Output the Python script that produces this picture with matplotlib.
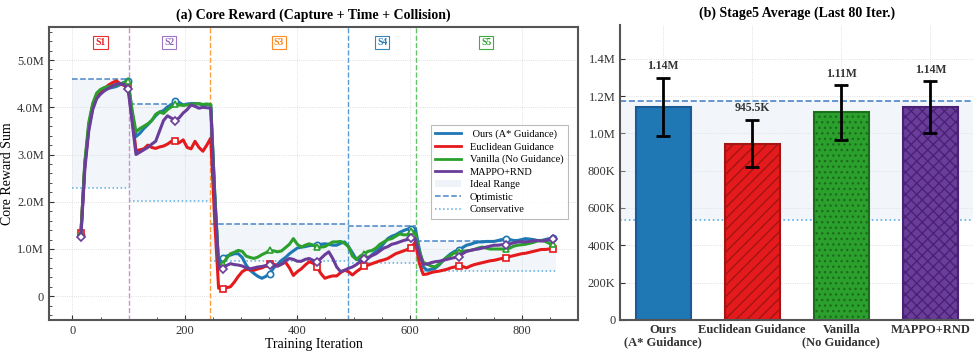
import matplotlib
matplotlib.use('Agg')
import matplotlib.pyplot as plt
import numpy as np
from matplotlib.ticker import FuncFormatter, AutoMinorLocator, MultipleLocator
from matplotlib.patches import Patch
from matplotlib.lines import Line2D

plt.rcParams['font.family'] = ['Liberation Serif', 'DejaVu Serif']
plt.rcParams['font.size'] = 8

# ---------------- datos panel (a) ----------------
# iteraciones de la curva suavizada (15 .. 855 cada 7)
iters = np.arange(15, 856, 7)

ours = [1.30, 2.80, 3.55, 3.98, 4.22, 4.32, 4.38, 4.40, 4.42, 4.44, 4.48, 4.53, 4.55,
        3.90, 3.38, 3.45, 3.55, 3.63, 3.72, 3.82, 3.90, 3.93, 4.01, 4.05, 4.14, 4.10, 4.05,
        4.07, 4.08, 4.08, 4.07, 4.05, 4.06, 4.05, 2.20, 0.62, 0.80,
        0.85, 0.87, 0.90, 0.90, 0.82, 0.66, 0.55, 0.48, 0.42, 0.38, 0.42, 0.48, 0.60, 0.68,
        0.76, 0.82, 0.90, 0.96, 1.02, 1.04, 1.05, 1.07, 1.08, 1.08, 1.10, 1.11, 1.10, 1.08,
        1.08, 1.12, 1.15, 1.05, 0.92, 0.78, 0.76, 0.80, 0.80, 0.88, 0.95, 1.02, 1.12, 1.22,
        1.27, 1.30, 1.35, 1.39, 1.42, 1.43, 1.43, 1.00, 0.62, 0.55, 0.57, 0.59, 0.66, 0.75,
        0.83, 0.90, 0.95, 0.98, 1.03, 1.08, 1.10, 1.13, 1.15, 1.15, 1.16, 1.16, 1.16, 1.18,
        1.20, 1.22, 1.20, 1.18, 1.18, 1.20, 1.22, 1.21, 1.20, 1.18, 1.18, 1.20, 1.22, 1.23]
euclid = [1.33, 2.78, 3.60, 4.05, 4.26, 4.34, 4.40, 4.47, 4.52, 4.56, 4.50, 4.46, 4.45,
          3.80, 3.08, 3.10, 3.12, 3.20, 3.15, 3.13, 3.16, 3.18, 3.22, 3.28, 3.28, 3.25, 3.31,
          3.15, 3.12, 3.28, 3.15, 3.07, 3.20, 3.35, 1.60, 0.17, 0.15,
          0.18, 0.20, 0.30, 0.42, 0.52, 0.57, 0.56, 0.55, 0.58, 0.60, 0.64, 0.69, 0.68, 0.64,
          0.68, 0.72, 0.60, 0.44, 0.52, 0.58, 0.66, 0.73, 0.70, 0.62, 0.48, 0.38, 0.41, 0.43,
          0.43, 0.50, 0.55, 0.52, 0.45, 0.52, 0.58, 0.64, 0.66, 0.69, 0.72, 0.75, 0.77, 0.80,
          0.85, 0.90, 0.93, 0.96, 0.99, 1.03, 1.15, 0.70, 0.46, 0.47, 0.50, 0.52, 0.53, 0.55,
          0.57, 0.60, 0.62, 0.65, 0.63, 0.60, 0.64, 0.67, 0.69, 0.71, 0.73, 0.75, 0.76, 0.78,
          0.80, 0.82, 0.84, 0.86, 0.88, 0.90, 0.91, 0.93, 0.95, 0.97, 0.99, 0.99, 1.00, 1.00]
vanilla = [1.33, 2.85, 3.68, 4.08, 4.30, 4.38, 4.42, 4.44, 4.45, 4.47, 4.50, 4.52, 4.55,
           3.95, 3.48, 3.55, 3.60, 3.65, 3.72, 3.85, 3.90, 3.87, 3.95, 4.01, 4.06, 4.05, 4.04,
           4.05, 4.06, 4.07, 4.08, 4.06, 4.07, 4.06, 2.20, 0.66, 0.69,
           0.80, 0.90, 0.93, 0.97, 0.95, 0.85, 0.82, 0.80, 0.83, 0.88, 0.92, 0.97, 0.96, 0.94,
           0.96, 1.03, 1.10, 1.22, 1.10, 1.04, 1.08, 1.11, 1.08, 1.04, 1.04, 1.05, 1.10, 1.15,
           1.15, 1.16, 1.12, 1.05, 0.85, 0.78, 0.85, 0.90, 0.95, 0.97, 1.02, 1.10, 1.15, 1.20,
           1.22, 1.27, 1.32, 1.30, 1.30, 1.39, 1.32, 0.95, 0.72, 0.68, 0.64, 0.62, 0.68, 0.76,
           0.82, 0.87, 0.92, 0.94, 0.95, 0.96, 0.97, 0.99, 1.02, 1.04, 1.02, 1.00, 1.00, 1.00,
           1.00, 1.00, 1.02, 1.06, 1.08, 1.09, 1.10, 1.12, 1.14, 1.17, 1.18, 1.16, 1.12, 1.10]
mappo = [1.25, 2.69, 3.50, 3.95, 4.18, 4.28, 4.35, 4.40, 4.45, 4.49, 4.50, 4.48, 4.38,
         3.70, 3.00, 3.05, 3.10, 3.15, 3.22, 3.28, 3.50, 3.72, 3.82, 3.77, 3.72, 3.78, 3.88,
         3.95, 4.05, 4.02, 3.98, 4.00, 3.99, 3.98, 2.10, 0.65, 0.57,
         0.65, 0.69, 0.67, 0.66, 0.64, 0.60, 0.58, 0.60, 0.62, 0.63, 0.65, 0.66, 0.65, 0.64,
         0.68, 0.75, 0.80, 0.78, 0.74, 0.74, 0.78, 0.80, 0.76, 0.73, 0.80, 0.88, 0.94, 0.80,
         0.62, 0.52, 0.55, 0.59, 0.62, 0.67, 0.73, 0.78, 0.82, 0.86, 0.90, 0.96, 1.02, 1.05,
         1.10, 1.12, 1.15, 1.18, 1.20, 1.23, 1.20, 0.90, 0.68, 0.68, 0.71, 0.73, 0.74, 0.76,
         0.78, 0.80, 0.82, 0.84, 0.90, 0.95, 0.97, 0.99, 1.00, 1.02, 1.04, 1.06, 1.08, 1.08,
         1.09, 1.09, 1.11, 1.13, 1.15, 1.15, 1.15, 1.16, 1.17, 1.18, 1.17, 1.18, 1.20, 1.22]

series_names = [' Ours (A* Guidance)', 'Euclidean Guidance', 'Vanilla (No Guidance)', 'MAPPO+RND']
series_vals = [ours, euclid, vanilla, mappo]
colores = ['#1f77b4', '#e41a1c', '#2ca02c', '#6a3d9a']
marcadores = ['o', 's', '^', 'D']

# etapas del curriculum
stage_names = ['S1', 'S2', 'S3', 'S4', 'S5']
stage_start = [0, 100, 245, 490, 612]
stage_end = [100, 245, 490, 612, 860]
stage_opt = [4.60, 4.08, 1.52, 1.48, 1.17]
stage_cons = [2.30, 2.02, 0.75, 0.70, 0.54]
stage_colores = ['#e41a1c', '#9467bd', '#ff7f0e', '#1f77b4', '#2ca02c']
sep_colores = ['#c994c7', '#ff9f40', '#5b9bd5', '#66c266']

# ---------------- datos panel (b) ----------------
bar_labels = ['Ours\n(A* Guidance)', 'Euclidean Guidance', 'Vanilla\n(No Guidance)', 'MAPPO+RND']
bar_means = [1.143e6, 0.9455e6, 1.112e6, 1.140e6]
bar_std = [0.155e6, 0.127e6, 0.145e6, 0.140e6]
bar_text = ['1.14M', '945.5K', '1.11M', '1.14M']
s5_opt = 1.171e6
s5_cons = 0.538e6

fig = plt.figure(figsize=(9.77, 3.55), dpi=100)
ax = fig.add_axes([0.05, 0.099, 0.542, 0.825])
ax2 = fig.add_axes([0.635, 0.099, 0.361, 0.83])


def fmt_m(v, pos):
    if v == 0:
        return '0'
    if abs(v) >= 1e6:
        return f'{v/1e6:.1f}M'
    return f'{v/1e3:.0f}K'


# bandas ideales
for i in range(len(stage_names)):
    x0, x1 = stage_start[i], stage_end[i]
    ax.fill_between([x0, x1], stage_cons[i] * 1e6, stage_opt[i] * 1e6, color='#dce8f3', alpha=0.35, lw=0)
    ax.plot([x0, x1], [stage_opt[i] * 1e6] * 2, color='#4a86c8', ls='--', lw=1.1)
    ax.plot([x0, x1], [stage_cons[i] * 1e6] * 2, color='#5dade2', ls=':', lw=1.1)
    ax.text((x0 + x1) / 2, 5.38e6, stage_names[i], color=stage_colores[i], fontsize=7, fontweight='bold',
            ha='center', va='center',
            bbox=dict(boxstyle='square,pad=0.2', fc='white', ec=stage_colores[i], lw=0.8, alpha=0.9))

for i in range(1, len(stage_start)):
    ax.axvline(stage_start[i], color=sep_colores[i - 1], ls='--', lw=1.0)

for nombre, vals, c, m in zip(series_names, series_vals, colores, marcadores):
    ax.plot(iters, np.array(vals) * 1e6, color=c, lw=2.2, marker=m, markevery=12, ms=4.5,
            mfc='white', mec=c, mew=1.2, label=nombre, zorder=3)

ax.set_xlim(-42, 900)
ax.set_ylim(-0.5e6, 5.7e6)
ax.yaxis.set_major_locator(MultipleLocator(1e6))
ax.yaxis.set_major_formatter(FuncFormatter(fmt_m))
ax.xaxis.set_major_locator(MultipleLocator(200))
ax.xaxis.set_minor_locator(AutoMinorLocator())
ax.yaxis.set_minor_locator(AutoMinorLocator())
ax.tick_params(direction='in', which='both', labelsize=9, colors='#333333')
ax.grid(True, ls=':', color='#cccccc', lw=0.6, alpha=0.8)
for s in ax.spines.values():
    s.set_color('#555555')
    s.set_linewidth(1.5)
ax.set_xlabel('Training Iteration', fontsize=10, labelpad=1)
ax.set_ylabel('Core Reward Sum', fontsize=10, labelpad=2)
ax.set_title('(a) Core Reward (Capture + Time + Collision)', fontsize=10, fontweight='bold', pad=6)

handles = [Line2D([], [], color=c, lw=2) for c in colores]
labels = list(series_names)
handles += [Patch(fc='#dce8f3', alpha=0.5, ec='none'),
            Line2D([], [], color='#4a86c8', ls='--', lw=1.1),
            Line2D([], [], color='#5dade2', ls=':', lw=1.1)]
labels += ['Ideal Range', 'Optimistic', 'Conservative']
leg = ax.legend(handles, labels, loc='center right', bbox_to_anchor=(0.99, 0.505), fontsize=7.5,
                labelspacing=0.3, handlelength=2.5, borderpad=0.45, fancybox=False, edgecolor='#aaaaaa')
leg.get_frame().set_linewidth(0.8)

# ---------------- panel (b) ----------------
xpos = np.arange(len(bar_labels))
ax2.axhspan(s5_cons, s5_opt, color='#dce8f3', alpha=0.35, lw=0)
ax2.axhline(s5_opt, color='#4a86c8', ls='--', lw=1.2)
ax2.axhline(s5_cons, color='#5dade2', ls=':', lw=1.2)
hatches = ['', '///', '...', 'xxx']
bordes = ['#1a5a96', '#a31515', '#1b6e1b', '#4a2275']
for i in range(len(bar_labels)):
    ax2.bar(xpos[i], bar_means[i], width=0.62, color=colores[i], edgecolor=bordes[i], lw=1.5,
            hatch=hatches[i], zorder=2)
    ax2.errorbar(xpos[i], bar_means[i], yerr=bar_std[i], color='black', capsize=5, lw=2, capthick=2, zorder=3)
    ax2.text(xpos[i], bar_means[i] + bar_std[i] + 0.03e6, bar_text[i], ha='center', va='bottom',
             fontsize=8.5, fontweight='bold', color='#333333')

ax2.set_xlim(-0.48, 3.48)
ax2.set_ylim(0, 1.58e6)
ax2.set_xticks(xpos)
ax2.set_xticklabels(bar_labels, fontsize=8.5, fontweight='bold', color='#333333', linespacing=1.0)
ax2.yaxis.set_major_locator(MultipleLocator(2e5))
ax2.yaxis.set_major_formatter(FuncFormatter(fmt_m))
ax2.tick_params(direction='in', labelsize=9, colors='#333333')
ax2.tick_params(axis='x', length=0, pad=3)
ax2.grid(True, ls=':', color='#cccccc', lw=0.6, alpha=0.8)
ax2.set_axisbelow(True)
for k in ['top', 'right']:
    ax2.spines[k].set_visible(False)
for k in ['left', 'bottom']:
    ax2.spines[k].set_color('#555555')
    ax2.spines[k].set_linewidth(1.5)
ax2.set_title('(b) Stage5 Average (Last 80 Iter.)', fontsize=10, fontweight='bold', pad=6)

fig.savefig('out.png', dpi=100)
